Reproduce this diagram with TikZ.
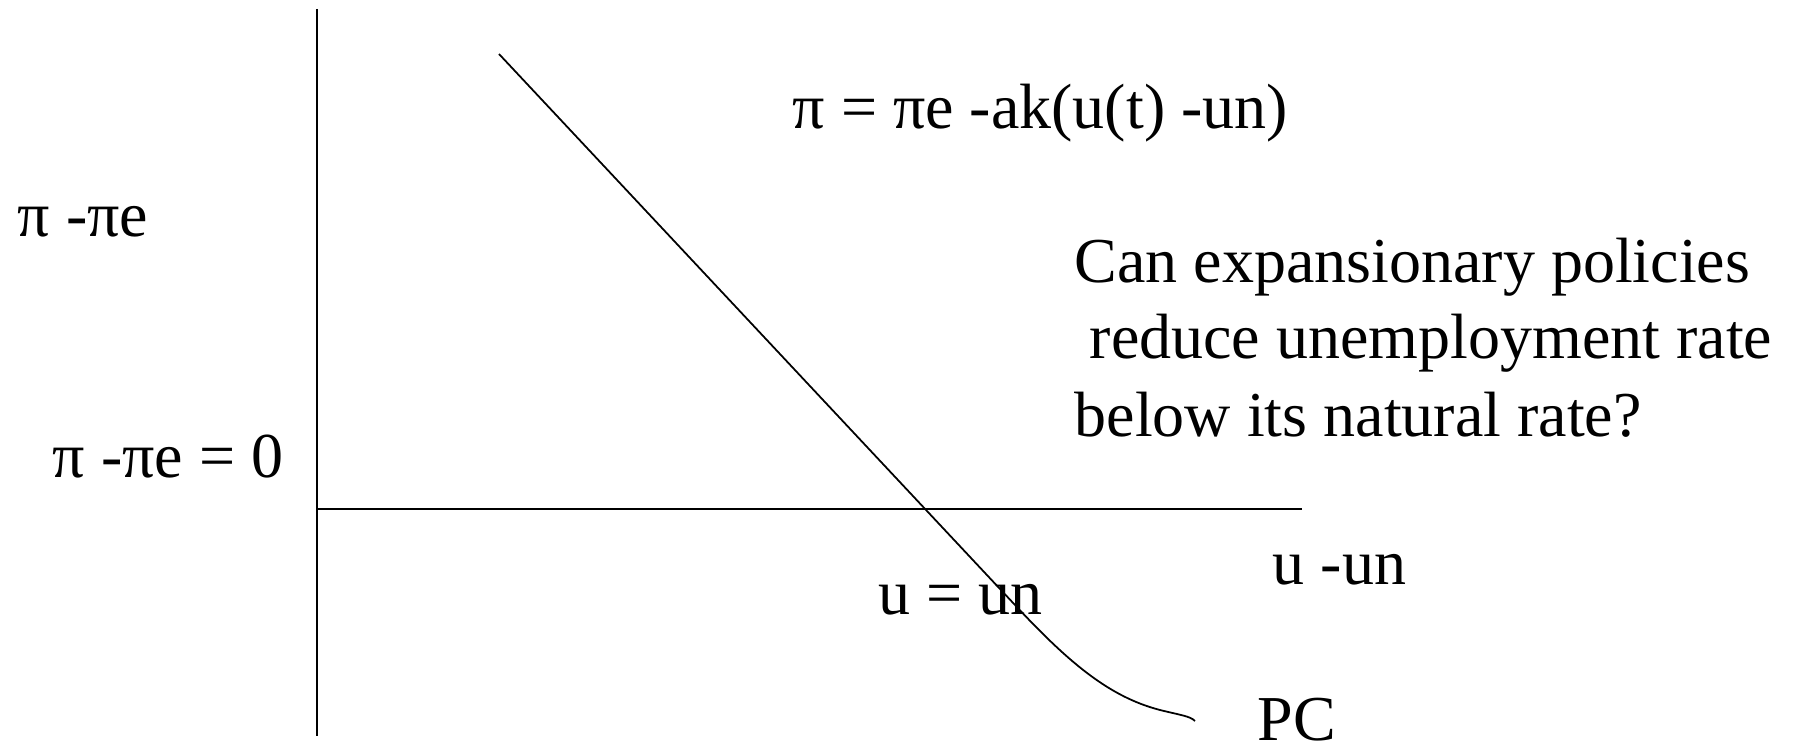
\documentclass[tikz,border=0pt]{standalone}
\usepackage{fontspec}
\setmainfont{Liberation Serif}
\begin{document}
\begin{tikzpicture}[x=0.01cm,y=-0.01cm,
  lbl/.style={anchor=base west,inner sep=0pt,font=\fontsize{18.2pt}{22pt}\selectfont},
  axisline/.style={line width=0.6pt},
  curveline/.style={line width=0.5pt}]
\useasboundingbox (0,0) rectangle (1795,752);
% axes
\coordinate (ytop) at (317,9);
\coordinate (ybot) at (317,736);
\coordinate (orig) at (317,509);
\coordinate (xend) at (1302,509);
\draw[axisline] (ytop) -- (ybot);
\draw[axisline] (orig) -- (xend);
% Phillips curve
\coordinate (pcstart) at (499,54);
\coordinate (pcbend) at (1015,605);
\coordinate (pcmid) at (1160,710);
\coordinate (pcend) at (1195,721);
\draw[curveline] (pcstart) -- (pcbend)
  .. controls (1070,664) and (1110,697) .. (pcmid)
  .. controls (1180,715) and (1190,716) .. (pcend);
% labels
\node[lbl] (eq) at (792,129) {π = πe -ak(u(t) -un)};
\node[lbl] (yl) at (17,237) {π -πe};
\node[lbl] (yz) at (52,477) {π -πe = 0};
\node[lbl] (q1) at (1074,283) {Can expansionary policies};
\node[lbl] (q2) at (1089,359) {reduce unemployment rate};
\node[lbl] (q3) at (1074,436) {below its natural rate?};
\node[lbl] (xl) at (1272,584) {u -un};
\node[lbl] (un) at (878,614) {u = un};
\node[lbl] (pc) at (1257,740) {PC};
\end{tikzpicture}
\end{document}
